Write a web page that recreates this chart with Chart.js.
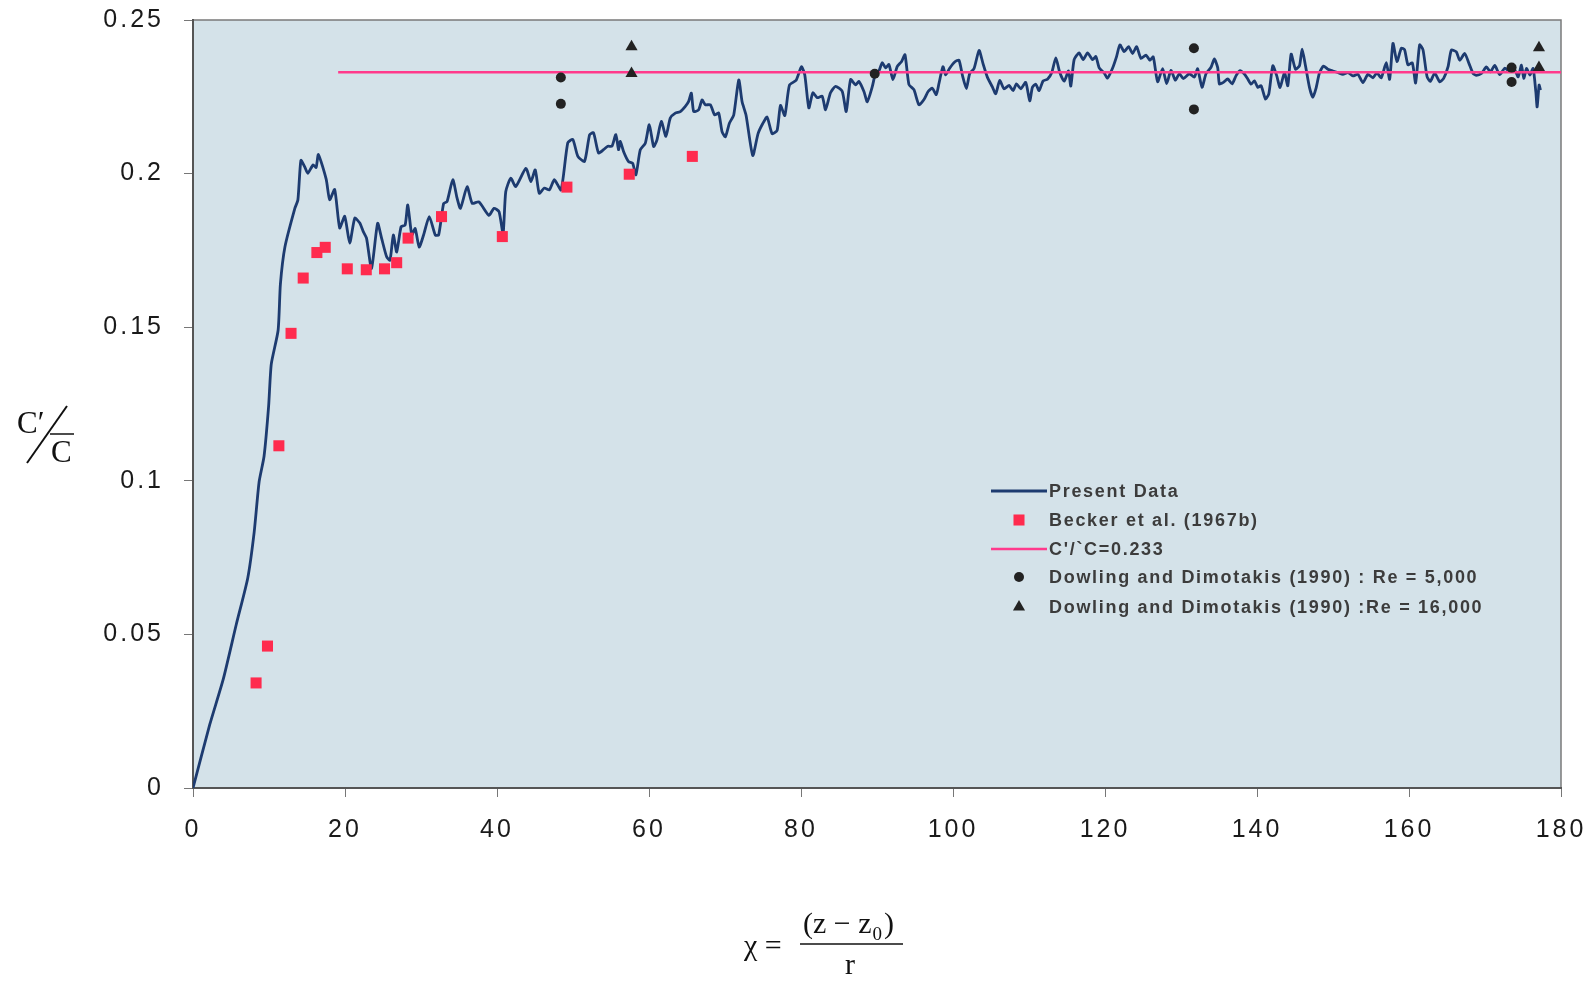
<!DOCTYPE html>
<html>
<head>
<meta charset="utf-8">
<script src="https://cdn.jsdelivr.net/npm/chart.js@4.4.1/dist/chart.umd.min.js"></script>
<style>
html, body { margin: 0; padding: 0; background: #fff; }
#wrap { width: 1594px; height: 981px; }
</style>
</head>
<body>
<div id="wrap"><canvas id="concChart" width="1594" height="981"></canvas></div>
<script>
// present data (measured trace)
const presentX = [
  0, 2.2, 4.0, 5.7, 7.2, 8.05, 8.7, 9.35, 9.95, 10.3, 11.2, 11.5, 12.1, 13.4, 13.8, 14.2, 14.7, 15.1, 15.8, 16.2, 16.5,
  17.53, 17.98, 18.64, 19.30, 19.96, 20.62, 21.29, 21.95, 22.39, 22.83, 23.49, 24.29, 24.82, 25.48, 25.92, 26.36, 26.80,
  27.38, 27.91, 28.26, 28.79, 29.23, 29.76, 30.34, 31.09, 31.88, 32.32, 32.98, 33.43, 34.18, 34.75, 35.19, 36.07, 36.74,
  37.62, 38.94, 39.60, 40.27, 40.80, 41.15, 41.81, 42.47, 43.80, 44.46, 45.03, 45.56, 46.23, 46.89, 47.55, 48.43, 49.31,
  49.98, 50.64, 51.52, 52.19,
  52.70, 53.36, 54.02, 54.59, 55.12, 55.64, 55.99, 56.22, 56.65, 57.31, 57.84, 58.28, 58.85, 59.51, 60.04, 60.61, 61.05,
  61.62, 62.23, 62.80, 63.46, 64.12, 64.78, 65.22, 65.57, 65.88, 66.54, 66.98, 67.41, 68.07, 68.64, 69.17, 69.61, 70.05,
  70.58, 71.15, 71.81, 72.25, 72.77, 73.65, 74.35, 74.97, 75.54, 76.20, 76.86, 77.30, 77.87, 78.48, 79.36, 80.06, 80.50,
  81.03, 81.56, 82.13, 82.79, 83.23, 83.88, 84.54, 85.42, 85.95, 86.52, 87.18, 87.62, 88.28, 88.72, 89.38, 89.81,
  90.25, 90.69, 91.13, 91.57, 92.09, 92.67, 93.24, 93.68, 94.20, 94.86, 95.52, 96.18, 96.75, 97.28, 97.80, 98.16, 98.68,
  99.03, 99.56, 100.26, 100.79, 101.23, 101.76, 102.20, 102.77, 103.43, 103.95, 104.52, 105.18, 105.62, 106.15, 106.72,
  107.38, 107.91, 108.35, 108.92, 109.57, 110.10, 110.45, 110.89, 111.33, 111.86, 112.43, 113.00, 113.53, 114.05, 114.63,
  115.20, 115.50, 115.94, 116.60, 117.13, 117.70, 118.36, 118.80, 119.24, 119.90, 120.33, 120.99, 121.52, 121.96, 122.53,
  123.10, 123.63, 124.16, 124.73, 125.39, 125.91, 126.35, 126.92, 127.58, 128.11, 128.68, 129.25, 129.78, 130.30, 131.10,
  131.75, 132.19, 132.76, 133.29, 133.95, 134.39, 134.83,
  135.05, 135.58, 136.15, 136.72, 137.25, 137.77, 138.34, 138.78, 139.22, 139.66, 140.10, 140.54, 141.11, 141.55, 142.08,
  142.60, 143.04, 143.61, 144.05, 144.49, 145.06, 145.59, 145.94, 146.38, 146.91, 147.35, 147.79, 148.23, 148.75, 149.32,
  149.98, 150.64, 151.30, 151.96, 152.62, 153.28, 153.94, 154.59, 155.25, 155.78, 156.35, 157.01, 157.45, 157.89, 158.41,
  158.99, 159.42, 159.86, 160.44, 160.87, 161.40, 161.84, 162.37, 162.81, 163.38, 164.04, 164.56, 165.14, 165.57, 166.23,
  166.67, 167.33, 167.90, 168.43, 168.87, 169.53, 170.19, 170.71, 171.28, 171.94, 172.60, 173.26, 173.92, 174.36, 174.80,
  175.10, 175.46, 175.90, 176.33, 176.69, 176.86, 177.12, 177.30
];
const presentY = [
  0, 0.0206, 0.0356, 0.0533, 0.0683, 0.0833, 0.0997, 0.108, 0.1243, 0.138, 0.149, 0.164, 0.1762, 0.1887, 0.1914, 0.2043, 0.2022, 0.2001, 0.2028, 0.202, 0.2062,
  0.1981, 0.1915, 0.1948, 0.1823, 0.1861, 0.1774, 0.1855, 0.1839, 0.1812, 0.1790, 0.1691, 0.1838, 0.1789, 0.1729, 0.1718, 0.1800, 0.1745,
  0.1827, 0.1832, 0.1898, 0.1800, 0.1821, 0.1761, 0.1800, 0.1860, 0.1800, 0.1800, 0.1903, 0.1909, 0.1980, 0.1920, 0.1887, 0.1957, 0.1903,
  0.1908, 0.1864, 0.1887, 0.1876, 0.1805, 0.1941, 0.1985, 0.1958, 0.2017, 0.1974, 0.2012, 0.1936, 0.1953, 0.1947, 0.1980, 0.1947, 0.2100,
  0.2111, 0.2056, 0.2040, 0.2127,
  0.2133, 0.2067, 0.2078, 0.2089, 0.2089, 0.2127, 0.2078, 0.2105, 0.2072, 0.2039, 0.2034, 0.1996, 0.2077, 0.2099, 0.2159, 0.2088, 0.2110,
  0.2170, 0.2121, 0.2181, 0.2197, 0.2202, 0.2219, 0.2235, 0.2262, 0.2202, 0.2208, 0.2240, 0.2224, 0.2224, 0.2191, 0.2197, 0.2137, 0.2120,
  0.2164, 0.2191, 0.2305, 0.2234, 0.2190, 0.2059, 0.2130, 0.2163, 0.2184, 0.2130, 0.2141, 0.2222, 0.2189, 0.2288, 0.2304, 0.2348, 0.2321,
  0.2214, 0.2263, 0.2247, 0.2252, 0.2208, 0.2263, 0.2284, 0.2268, 0.2202, 0.2306, 0.2289, 0.2300, 0.2267, 0.2234, 0.2283, 0.2327,
  0.2334, 0.2361, 0.2344, 0.2355, 0.2306, 0.2349, 0.2365, 0.2387, 0.2290, 0.2273, 0.2224, 0.2241, 0.2268, 0.2278, 0.2257, 0.2294, 0.2348,
  0.2321, 0.2343, 0.2364, 0.2369, 0.2321, 0.2277, 0.2326, 0.2342, 0.2401, 0.2358, 0.2314, 0.2282, 0.2260, 0.2303, 0.2276,
  0.2287, 0.2270, 0.2292, 0.2276, 0.2297, 0.2237, 0.2281, 0.2291, 0.2270, 0.2302, 0.2307, 0.2329, 0.2377, 0.2329, 0.2301,
  0.2334, 0.2285, 0.2371, 0.2393, 0.2371, 0.2393, 0.2371, 0.2381, 0.2344, 0.2327, 0.2311, 0.2343, 0.2381, 0.2419, 0.2397,
  0.2413, 0.2391, 0.2413, 0.2375, 0.2386, 0.2369, 0.2380, 0.2299, 0.2342, 0.2293, 0.2336, 0.2304, 0.2325, 0.2309, 0.2325,
  0.2314, 0.2341, 0.2281, 0.2325, 0.2346, 0.2373, 0.2345,
  0.2292, 0.2297, 0.2308, 0.2292, 0.2319, 0.2335, 0.2324, 0.2308, 0.2291, 0.2302, 0.2281, 0.2286, 0.2243, 0.2259, 0.2351,
  0.2318, 0.2280, 0.2329, 0.2286, 0.2389, 0.2340, 0.2351, 0.2405, 0.2351, 0.2280, 0.2248, 0.2280, 0.2329, 0.2350, 0.2340,
  0.2334, 0.2329, 0.2323, 0.2329, 0.2318, 0.2323, 0.2296, 0.2323, 0.2312, 0.2328, 0.2312, 0.2361, 0.2307, 0.2424, 0.2365,
  0.2408, 0.2403, 0.2354, 0.2360, 0.2295, 0.2419, 0.2403, 0.2316, 0.2300, 0.2327, 0.2299, 0.2310, 0.2348, 0.2402, 0.2396,
  0.2369, 0.2391, 0.2358, 0.2326, 0.2320, 0.2326, 0.2347, 0.2331, 0.2352, 0.2322, 0.2343, 0.2332, 0.2337, 0.2315, 0.2353,
  0.2310, 0.2342, 0.2321, 0.2342, 0.2266, 0.2217, 0.2288, 0.2272
];

// Becker et al. (1967b)
const beckerX = [8.3, 9.8, 11.3, 12.9, 14.5, 16.3, 17.4, 20.3, 22.8, 25.2, 26.8, 28.3, 32.7, 40.7, 49.2, 57.4, 65.7];
const beckerY = [0.0342, 0.0462, 0.1114, 0.148, 0.166, 0.1743, 0.176, 0.169, 0.1687, 0.169, 0.171, 0.179, 0.186, 0.1795, 0.1956, 0.1998, 0.2056];

// C'/C = 0.233 reference line
const refX = [19.1, 180];
const refY = [0.233, 0.233];

// Dowling and Dimotakis (1990)
const dd5000X = [48.4, 48.4, 89.7, 131.7, 131.7, 173.5, 173.5];
const dd5000Y = [0.2313, 0.2227, 0.2325, 0.2408, 0.2209, 0.2345, 0.2298];
const dd16000X = [57.7, 57.7, 177.1, 177.1];
const dd16000Y = [0.2413, 0.2326, 0.241, 0.2345];

const seriesLabels = [
  "Present Data",
  "Becker et al. (1967b)",
  "C'/`C=0.233",
  "Dowling and Dimotakis (1990) : Re = 5,000",
  "Dowling and Dimotakis (1990) :Re = 16,000"
];
const xTicks = [0, 20, 40, 60, 80, 100, 120, 140, 160, 180];
const yTicks = [0, 0.05, 0.1, 0.15, 0.2, 0.25];

const toPoints = (xs, ys) => xs.map((x, i) => ({ x: x, y: ys[i] }));
const TICK_FONT = { family: "'Liberation Sans', Arial, sans-serif", size: 25 };
const SERIF = "'Liberation Serif', 'Times New Roman', serif";

const plotArea = {
  id: "plotArea",
  beforeUpdate(chart) {
    chart.ctx.letterSpacing = "3px";
  },
  beforeDraw(chart) {
    const { ctx, chartArea: a } = chart;
    ctx.save();
    ctx.fillStyle = "#d4e2e9";
    ctx.fillRect(a.left, a.top, a.right - a.left, a.bottom - a.top);
    ctx.strokeStyle = "#7a7a7a";
    ctx.lineWidth = 1.5;
    ctx.strokeRect(a.left, a.top, a.right - a.left, a.bottom - a.top);
    ctx.restore();
    ctx.letterSpacing = "3px";
  },
  afterDraw(chart) {
    const ctx = chart.ctx;
    ctx.save();
    ctx.letterSpacing = "0px";
    ctx.fillStyle = "#111";
    ctx.strokeStyle = "#111";

    // y title  C'/C
    ctx.font = "31px " + SERIF;
    ctx.textBaseline = "alphabetic";
    ctx.textAlign = "left";
    ctx.fillText("C\u2032", 17, 433);
    ctx.fillText("C", 51, 462);
    ctx.lineWidth = 2;
    ctx.beginPath();
    ctx.moveTo(27, 463);
    ctx.lineTo(67, 406);
    ctx.stroke();
    ctx.lineWidth = 1.5;
    ctx.beginPath();
    ctx.moveTo(50, 434);
    ctx.lineTo(74, 434);
    ctx.stroke();

    // x title  chi = (z - z0)/r
    ctx.font = "30px " + SERIF;
    ctx.fillText("\u03c7 =", 744, 955);
    const num = "(z \u2212 z";
    ctx.fillText(num, 803, 933);
    const w = ctx.measureText(num).width;
    ctx.font = "19px " + SERIF;
    ctx.fillText("0", 803 + w + 1, 940);
    const w0 = ctx.measureText("0").width;
    ctx.font = "30px " + SERIF;
    ctx.fillText(")", 803 + w + w0 + 3, 933);
    ctx.lineWidth = 1.5;
    ctx.beginPath();
    ctx.moveTo(800, 944);
    ctx.lineTo(903, 944);
    ctx.stroke();
    ctx.textAlign = "center";
    ctx.fillText("r", 850, 974);

    // legend inside the plot
    const rowY = [491, 520, 549, 577, 607];
    ctx.textAlign = "left";
    ctx.textBaseline = "middle";
    chart.data.datasets.forEach((ds, i) => {
      const y = rowY[i];
      if (ds.showLine) {
        ctx.strokeStyle = ds.borderColor;
        ctx.lineWidth = ds.borderWidth;
        ctx.beginPath();
        ctx.moveTo(991, y);
        ctx.lineTo(1047, y);
        ctx.stroke();
      } else {
        ctx.fillStyle = ds.backgroundColor;
        ctx.strokeStyle = ds.backgroundColor;
        Chart.helpers.drawPoint(ctx, {
          pointStyle: ds.pointStyle, radius: ds.pointRadius, rotation: 0, borderWidth: 0
        }, 1019, y);
      }
      ctx.fillStyle = "#3c3c3c";
      ctx.font = "bold 18px 'Liberation Sans', Arial, sans-serif";
      ctx.letterSpacing = "1.7px";
      ctx.fillText(ds.label, 1049, y + 1);
      ctx.letterSpacing = "0px";
    });
    ctx.restore();
  }
};

new Chart(document.getElementById("concChart"), {
  type: "scatter",
  data: {
    datasets: [
      {
        label: seriesLabels[0],
        data: toPoints(presentX, presentY),
        showLine: true,
        borderColor: "#1d3b70",
        borderWidth: 2.8,
        pointRadius: 0,
        tension: 0.2,
        order: 2
      },
      {
        label: seriesLabels[1],
        data: toPoints(beckerX, beckerY),
        pointStyle: "rect",
        pointRadius: 7.8,
        backgroundColor: "#ff2b4e",
        borderWidth: 0,
        order: 0
      },
      {
        label: seriesLabels[2],
        data: toPoints(refX, refY),
        showLine: true,
        borderColor: "#ff3a8c",
        borderWidth: 2.5,
        pointRadius: 0,
        order: 1
      },
      {
        label: seriesLabels[3],
        data: toPoints(dd5000X, dd5000Y),
        pointStyle: "circle",
        pointRadius: 5,
        backgroundColor: "#222222",
        borderWidth: 0,
        order: 0
      },
      {
        label: seriesLabels[4],
        data: toPoints(dd16000X, dd16000Y),
        pointStyle: "triangle",
        pointRadius: 7,
        backgroundColor: "#222222",
        borderWidth: 0,
        order: 0
      }
    ]
  },
  options: {
    responsive: false,
    animation: false,
    devicePixelRatio: 1,
    layout: { padding: { top: 20, right: 33, left: 0, bottom: 0 } },
    plugins: { legend: { display: false }, tooltip: { enabled: false } },
    scales: {
      x: {
        type: "linear",
        min: 0,
        max: 180,
        afterBuildTicks: (s) => { s.ticks = xTicks.map((v) => ({ value: v })); },
        afterFit: (s) => { s.height = 193; s.paddingLeft = 0; s.paddingRight = 0; },
        ticks: { font: TICK_FONT, color: "#1a1a1a", padding: 18, maxRotation: 0, autoSkip: false },
        grid: { drawOnChartArea: false, drawTicks: true, tickLength: 9, color: "#777" },
        border: { color: "#555", width: 2 }
      },
      y: {
        type: "linear",
        min: 0,
        max: 0.25,
        afterBuildTicks: (s) => { s.ticks = yTicks.map((v) => ({ value: v })); },
        afterFit: (s) => { s.width = 193; s.paddingTop = 0; s.paddingBottom = 0; },
        ticks: {
          font: TICK_FONT, color: "#1a1a1a", padding: 20,
          callback: (v) => String(+Number(v).toFixed(2))
        },
        grid: { drawOnChartArea: false, drawTicks: true, tickLength: 9, color: "#777" },
        border: { color: "#555", width: 2 }
      }
    }
  },
  plugins: [plotArea]
});
</script>
</body>
</html>
